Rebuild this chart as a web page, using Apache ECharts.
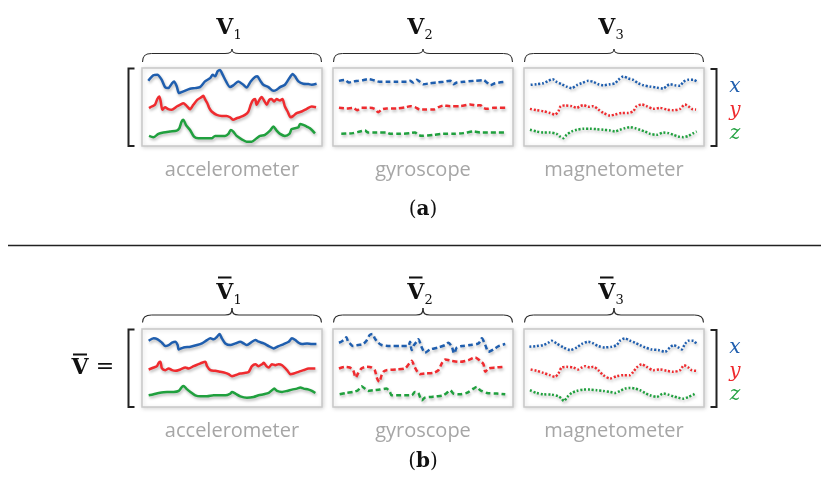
<!DOCTYPE html>
<html><head><meta charset="utf-8">
<script src="https://cdn.jsdelivr.net/npm/echarts@6/dist/echarts.min.js"></script>
<style>html,body{margin:0;padding:0;background:#fff}#c{width:821px;height:477px}</style>
</head><body><div id="c"></div>
<script>
// ---------- labels ----------
const sensorNames = ['accelerometer', 'gyroscope', 'magnetometer'];
const axisNames = ['x', 'y', 'z'];
const subLabels = ['(a)', '(b)'];

// ---------- data: [time %, level %] ----------
// (a) raw signals
const a_acc_x = [[3.5,83.7],[6.3,90.6],[8.5,91.4],[10.9,85],[12.8,75.5],[14.6,74.2],[16.5,79.8],[17.8,82.8],[19.3,76.4],[20.6,67.8],[23,70],[26.7,73.4],[29.4,74.2],[32.2,75.5],[35,82.8],[37.8,87],[39.3,91.4],[40.6,89.3],[42,95.7],[43.3,97.5],[44.8,91.4],[46.7,82.8],[48.9,75.5],[50.7,77.7],[53.5,82.8],[56.3,78.5],[58.1,75.1],[60.4,82.8],[62.8,88.4],[64.1,89.3],[65.6,84.1],[67.4,78.5],[70.2,75.5],[73,70.8],[74.8,72.1],[76.7,75.5],[79.4,78.5],[81.9,87.1],[83.7,92.3],[85,89.3],[86.9,82.8],[89.6,79.8],[92.4,79.4],[94.3,78.5],[97,79.8]];
const a_acc_y = [[3.9,48.5],[5.4,50.6],[7.2,52.8],[8.5,60.1],[9.6,63.5],[10.4,57.1],[11.3,46.4],[12.8,49.8],[14.6,47.2],[16.5,46.4],[19.3,50.6],[21.1,52.8],[23,54.9],[24.8,51.5],[26.7,47.2],[28.5,52.8],[30.7,59.2],[33.1,62.7],[34.1,64.4],[35,60.1],[36.3,54.9],[37.4,48.5],[38.7,44.2],[41.5,39.9],[44.3,38.6],[47,38.6],[48.9,36.9],[50.7,33.5],[52.6,35.6],[54.4,36.9],[57.2,39.9],[59.1,44.2],[60.4,52.8],[61.5,58.4],[62.8,60.1],[63.7,52.8],[65.2,59.2],[66.5,62.7],[67.8,58.4],[69.3,52.8],[70.7,59.2],[72,60.1],[73.3,57.1],[74.8,60.1],[76.7,58.4],[78,60.1],[79.4,50.6],[80.9,44.2],[82.6,36.9],[84.1,38.6],[85.9,42.1],[88.7,44.2],[91.5,47.6],[94.3,50.6],[96.7,49.8]];
const a_acc_z = [[3.9,12.9],[6.3,11.2],[9.1,15.5],[11.9,17.2],[15.6,18.5],[19.3,19.7],[20.7,22.7],[22,31.3],[23,33.5],[24.4,27],[26.7,20.6],[28.9,12],[31.3,9.9],[35,9.9],[38.7,9.9],[40.6,12.9],[43.3,12.9],[46.1,12.9],[48,15.5],[49.3,20.6],[50.7,18.5],[52.6,12.9],[55.4,8.6],[58.1,5.6],[60.9,5.6],[63.7,9.9],[65.6,12.9],[68.3,14.2],[71.1,19.7],[73,24.9],[74.8,19.7],[76.7,15.5],[79.4,12.9],[81.9,15.5],[83.1,21.5],[85,22.7],[86.9,24],[87.8,28.3],[89.6,27],[91.5,24.9],[93.3,22.7],[96.1,16.3]];
const a_gyr_x = [[3.3,83.5],[6.5,84.8],[8.9,81.4],[11.2,82.7],[13.9,83.5],[16.7,84.4],[19.5,85.7],[21.9,84.8],[23.8,83.5],[25.7,82.3],[29.7,82.3],[35.3,82.3],[40.9,82.3],[42.8,83.5],[44.6,81.4],[46.5,84.8],[48.3,82.3],[50.2,79.2],[53.9,80.5],[57.6,81.4],[61.3,82.3],[65.1,83.5],[66.9,79.2],[68.8,81.4],[72.5,82.3],[78.1,83.5],[83.6,84.4],[85.5,81.4],[87.4,77.9],[90.1,80.5],[95.7,82.3]];
const a_gyr_y = [[3.3,48.9],[7.4,48.1],[11.2,48.9],[13.4,45.9],[15.8,48.9],[20.4,48.9],[23.2,47.6],[25.1,43.3],[27,46.8],[29.7,48.1],[35.3,48.1],[40.9,49.8],[42.8,51.1],[45.5,49.8],[48.3,46.8],[51.1,46.8],[55.8,46.8],[58.6,49.8],[61.3,51.9],[65.1,51.1],[70.6,51.1],[76.2,53.2],[79.9,51.9],[81.8,52.4],[83.6,48.9],[85.5,47.6],[89.2,48.9],[95.7,48.9]];
const a_gyr_z = [[4.6,15.6],[11.2,16.5],[14.9,18.6],[17.7,19.9],[19.5,17.3],[24.2,17.3],[29.7,17.3],[31.6,15.6],[37.2,15.6],[42.8,16.5],[45.5,17.3],[47.4,14.3],[49.3,13],[55.8,14.3],[61.3,15.6],[66.9,15.6],[72.5,16.5],[78.1,18.6],[81.8,17.3],[95.7,17.3]];
const a_mag_x = [[3.7,78.4],[7,79.2],[10.7,80.5],[13.5,83.5],[15.9,85.7],[18.1,82.3],[20.9,79.2],[23.7,76.2],[26.5,74],[29.3,77.9],[32,80.5],[35.7,83.5],[38.5,82.3],[41.3,79.2],[44.1,77.9],[47.8,79.2],[50.6,80.5],[52.4,84.8],[55.2,89.2],[58,86.6],[60.7,84.8],[63.5,80.5],[66.3,77.9],[70,76.2],[73.7,74.9],[77.4,73.6],[79.3,77.1],[81.1,79.2],[83.9,77.9],[86.7,77.1],[88.5,82.3],[91.3,84.8],[94.1,84.8],[96.3,82.3]];
const a_mag_y = [[3.3,47.6],[7,45.9],[10.7,44.6],[14.4,42.4],[17.2,40.3],[19.1,44.6],[20.4,51.1],[22.8,51.9],[26.5,51.1],[29.3,48.9],[31.1,51.1],[33,52.4],[35.7,50.2],[38.5,51.1],[41.3,46.8],[44.1,42.4],[47.8,39],[50.6,40.3],[54.3,42.4],[58,42.4],[60.7,44.6],[62.6,51.1],[65.4,53.2],[68.1,51.1],[71.9,47.6],[75.6,48.9],[79.3,46.8],[83,45.9],[86.7,47.6],[89.4,53.2],[91.3,51.1],[93.1,47.6],[95.6,46.8]];
const a_mag_z = [[3.3,20.8],[7,18.6],[10.7,17.3],[14.4,17.3],[18.1,15.6],[20,12.1],[21.9,10],[23.7,14.3],[26.5,18.6],[29.3,20.8],[33,22.1],[36.7,22.1],[40.4,21.6],[44.1,20.8],[47.8,19.9],[50.6,18.6],[53.3,20.8],[56.1,22.9],[58.9,24.2],[61.7,22.9],[64.4,20.8],[67.2,18.6],[70,15.6],[73.7,14.3],[77.4,17.3],[80.2,16.5],[83,14.3],[85.7,12.1],[88.5,11.3],[91.3,12.9],[94.1,16.5],[95.9,18.6]];
// (b) processed signals
const b_acc_x = [[3.7,85],[6.5,88],[8.7,86.7],[11.1,82.4],[13,78.1],[14.8,79.4],[16.7,82.4],[18.5,83.7],[19.8,79.4],[20.4,73.8],[23.1,76.4],[26.9,77.3],[30.6,79.4],[33.3,81.5],[36.1,85.8],[38,88],[39.8,86.7],[41.7,90.1],[43.1,93.6],[44.4,88],[46.3,81.5],[49.1,79.4],[51.9,81.5],[54.6,83.7],[56.5,81.5],[58.3,79.4],[61.1,83.7],[63,85.8],[64.8,83.7],[67.6,81.5],[70.4,78.1],[73.1,75.1],[75.9,78.1],[78.7,80.7],[81.5,83.7],[83.3,88],[85.2,85.8],[87,82.4],[88.9,80.7],[91.7,81.5],[94.4,80.7],[96.9,80.7]];
const b_acc_y = [[3.7,48.1],[6.5,50.6],[8.3,52.4],[9.3,56.7],[10.2,57.9],[11.1,49.4],[13,47.2],[14.8,49.4],[16.7,47.2],[18.5,46.4],[21.3,48.1],[24.1,50.6],[25.9,49.4],[28.7,52.4],[31.5,54.9],[33.3,56.7],[35.2,57.9],[36.1,52.4],[38,47.2],[40.7,46.4],[43.5,45.1],[46.3,43.8],[48.1,42.1],[50,39.5],[51.9,40.8],[54.6,42.9],[57.4,43.8],[59.3,45.1],[61.1,52.4],[63,54.9],[64.8,52.4],[66.7,54.9],[67.6,56.7],[69.1,52.4],[70.4,50.6],[72.2,54.9],[74.1,53.6],[75.9,54.9],[77.8,53.6],[80.6,47.2],[82.4,42.1],[84.3,42.9],[87,45.1],[89.8,47.2],[92.6,49.4],[96.3,49.4]];
const b_acc_z = [[3.7,15],[6.5,16.3],[9.3,18],[13.9,19.3],[17.6,19.3],[20.4,20.6],[22.2,25.8],[23.1,27],[24.6,23.6],[26.9,19.3],[29.6,15],[32.4,13.7],[36.1,13.7],[39.8,15],[43.5,15],[46.3,15],[49.1,17.2],[50,19.3],[51.9,17.2],[54.6,13.7],[58.3,12],[62,12.9],[64.8,15],[67.6,16.3],[70.4,18],[72.2,21.5],[73.5,23.6],[75,20.6],[77.8,19.3],[80.6,20.6],[83.3,22.3],[86.1,23.6],[88,24.9],[89.8,23.6],[92.6,22.3],[94.4,20.6],[96.3,18]];
const b_gyr_x = [[3.3,82.4],[4.6,83.7],[5.9,85.8],[7.4,89.3],[8.4,83.7],[9.7,80.7],[11.2,78.1],[13.9,79.4],[16.7,80.7],[18.6,85],[20.4,92.3],[21.9,93.6],[23.2,88],[25.1,82.4],[27,79.4],[31.6,78.1],[37.2,78.1],[41.8,78.1],[42.8,83.7],[43.7,73],[45,79.4],[46.5,83.7],[47.4,86.7],[49.3,76.4],[51.1,69.5],[53.9,73.8],[58.6,76.4],[62.3,79.4],[64.1,82.4],[66,77.3],[67.3,68.7],[68.8,76.4],[71.6,78.1],[76.2,79.4],[80.9,81.5],[82.7,88],[84.6,79.4],[86.4,70.8],[89.2,73.8],[92,78.1],[95.7,80.7]];
const b_gyr_y = [[3.3,49.4],[6.5,51.5],[9.3,50.6],[11.2,47.2],[12.6,37.8],[13.9,42.9],[15.8,49.4],[18.6,51.5],[21.4,50.6],[23.2,47.2],[24.5,36.5],[25.7,32.2],[27,40.8],[27.9,45.1],[29.7,47.2],[35.3,48.1],[40,49.4],[42.4,55.8],[43.7,59.2],[45.5,50.6],[48.3,42.1],[51.1,42.9],[55.8,43.8],[58.6,47.2],[60.4,55.8],[62.3,60.9],[66,59.2],[70.6,57.9],[75.3,60.1],[79,63.5],[81.8,59.2],[83.6,54.9],[84.6,45.1],[86.4,49.4],[90.1,50.6],[94.8,51.5]];
const b_gyr_z = [[3.7,16.3],[7.4,18],[11.2,19.3],[13.9,21.5],[15.8,26.6],[17.7,23.6],[19.5,20.6],[22.3,21.5],[26,22.3],[29.7,23.6],[31.6,19.3],[32.5,15],[35.3,15],[40,15],[43.7,15],[45.5,19.3],[47.4,18],[49.3,8.6],[51.1,12],[53.9,12.9],[57.6,13.7],[61.3,15],[63.2,18],[65.1,21.5],[66.9,17.2],[70.6,16.3],[74.3,18],[78.1,23.6],[79.9,25.8],[81.8,21.5],[85.5,18],[91.1,17.2],[95.7,16.3]];
const b_mag_x = [[3,77.3],[7,78.1],[10.7,79.4],[13.5,82.4],[15.4,85],[18.1,81.5],[21.9,76.4],[25.6,73],[29.3,76.4],[32,80.7],[35.7,83.7],[38.5,81.5],[41.3,78.1],[45,76.4],[48.7,77.3],[51.5,79.4],[53.3,85],[56.1,88],[58.9,85],[61.7,82.4],[64.4,79.4],[67.2,76.4],[70.9,73.8],[74.6,73],[78.3,70.8],[81.1,76.4],[83,79.4],[85.7,76.4],[87.6,73.8],[89.4,80.7],[91.3,85],[94.1,85],[95.9,80.7]];
const b_mag_y = [[3.7,48.1],[7,46.4],[10.7,43.8],[14.4,40.8],[17.2,38.6],[19.1,42.9],[20.9,50.6],[23.7,51.5],[27.4,50.6],[30.2,48.1],[32,50.6],[33.9,52.4],[36.7,50.6],[38.5,51.5],[41.3,47.2],[44.1,40.8],[47.8,36.5],[51.5,39.5],[55.2,40.8],[58.9,40.8],[60.7,45.1],[62.6,50.6],[65.4,54.9],[68.1,51.5],[71.9,47.2],[75.6,48.1],[79.3,46.4],[83,45.1],[86.7,47.2],[88.9,53.6],[91.3,50.6],[93.1,47.2],[95.6,46.4]];
const b_mag_z = [[3.3,21.5],[7,18],[10.7,16.3],[15.4,15.9],[19.1,13.7],[20.9,10.7],[22.2,7.7],[24.1,12.9],[26.5,18],[29.3,20.6],[33,22.3],[36.7,22.3],[40.4,21.5],[44.1,20.6],[47.8,19.3],[50.6,18],[53.3,20.6],[56.1,23.6],[58.9,24.5],[61.7,23.6],[64.4,21.5],[67.2,18],[70,15],[73.7,12.9],[77.4,17.2],[80.2,15.9],[83,13.7],[85.7,12],[88.5,10.7],[91.3,12.9],[94.1,15.9],[95.6,18]];

// ---------- layout / style ----------
const panelSeries = [
  [a_acc_x, a_acc_y, a_acc_z], [a_gyr_x, a_gyr_y, a_gyr_z], [a_mag_x, a_mag_y, a_mag_z],
  [b_acc_x, b_acc_y, b_acc_z], [b_gyr_x, b_gyr_y, b_gyr_z], [b_mag_x, b_mag_y, b_mag_z]
];
const lineColors = ['#1f5eae', '#ef2b2f', '#20a03e'];
const dashTypes = ['solid', [5, 3], [2, 1.8]];
const panelLeft = [142, 333, 524], panelW = 180, panelH = 78;
const rowTop = [68, 329];

const grids = [], xAxes = [], yAxes = [], series = [];
panelSeries.forEach((p, i) => {
  const row = Math.floor(i / 3), col = i % 3;
  grids.push({ left: panelLeft[col], top: rowTop[row], width: panelW, height: panelH, show: true,
    borderColor: '#c8c8c8', borderWidth: 1.5, backgroundColor: '#fff',
    shadowBlur: 4, shadowColor: 'rgba(0,0,0,0.15)', shadowOffsetX: 1, shadowOffsetY: 1 });
  xAxes.push({ type: 'value', gridIndex: i, min: 0, max: 100, show: false });
  yAxes.push({ type: 'value', gridIndex: i, min: 0, max: 100, show: false });
  p.forEach((d, k) => {
    series.push({ type: 'line', name: sensorNames[col] + ' ' + axisNames[k], xAxisIndex: i, yAxisIndex: i,
      data: d, symbol: 'none', showSymbol: false, smooth: 0.25, silent: true,
      lineStyle: { color: lineColors[k], width: 2.5, type: dashTypes[col], cap: 'butt',
        shadowBlur: 3, shadowColor: 'rgba(0,0,0,0.28)', shadowOffsetX: 1, shadowOffsetY: 2 } });
  });
});

const braceStyle = { stroke: '#2a2a2a', fill: null, lineWidth: 1.1 };
function brace(L, R, E, M, T) {
  const c = (L + R) / 2;
  const bz = (x1, y1, cpx1, cpy1, cpx2, cpy2, x2, y2) =>
    ({ type: 'bezierCurve', shape: { x1, y1, cpx1, cpy1, cpx2, cpy2, x2, y2 }, style: braceStyle });
  const ln = (x1, y1, x2, y2) => ({ type: 'line', shape: { x1, y1, x2, y2 }, style: braceStyle });
  return [
    bz(L, E, L, M + 3, L + 2, M, L + 9, M),
    ln(L + 9, M, c - 7, M),
    bz(c - 7, M, c - 2, M, c, M - 1, c, T),
    bz(c, T, c, M - 1, c + 2, M, c + 7, M),
    ln(c + 7, M, R - 9, M),
    bz(R - 9, M, R - 2, M, R, M + 3, R, E)
  ];
}

const graphics = [];
const barStyle = { stroke: '#111', lineWidth: 2 };
const braceY = [[62, 53.5, 49], [322.5, 315, 308]];
const vLabelY = [28.5, 293];
const sensorY = [170, 431];
const subY = [210, 462];
const axisY = [[87, 111, 134], [348, 372, 395]];
[0, 1].forEach(row => {
  const top = rowTop[row], bot = top + panelH;
  panelLeft.forEach((L, col) => {
    const cx = L + panelW / 2 - 3;
    graphics.push(...brace(L + 0.5, L + panelW - 0.5, ...braceY[row]));
    graphics.push({ type: 'text', x: cx, y: vLabelY[row],
      style: { text: '{v|V}{s|' + (col + 1) + '}', align: 'center', verticalAlign: 'middle',
        rich: { v: { font: 'bold 22px "DejaVu Serif"', fill: '#111', lineHeight: 28 },
                s: { font: '13px "DejaVu Serif"', fill: '#111', lineHeight: 14, verticalAlign: 'bottom' } } } });
    if (row === 1) {
      graphics.push({ type: 'line', shape: { x1: cx - 11, y1: 277.5, x2: cx + 2.5, y2: 277.5 }, style: barStyle });
    }
    graphics.push({ type: 'text', x: L + panelW / 2, y: sensorY[row],
      style: { text: sensorNames[col], font: '20px "Open Sans"', fill: '#a6a6a6', align: 'center', verticalAlign: 'middle' } });
  });
  graphics.push({ type: 'polyline', shape: { points: [[134.5, top + 0.5], [128.5, top + 0.5], [128.5, bot], [134.5, bot]] },
    style: { stroke: '#222', lineWidth: 2, fill: null } });
  graphics.push({ type: 'polyline', shape: { points: [[710.5, top + 1], [716.5, top + 1], [716.5, bot], [710.5, bot]] },
    style: { stroke: '#222', lineWidth: 2, fill: null } });
  axisNames.forEach((n, k) => {
    graphics.push({ type: 'text', x: 735, y: axisY[row][k],
      style: { text: n, font: 'italic 20px "DejaVu Serif"', fill: lineColors[k], align: 'center', verticalAlign: 'middle' } });
  });
  const letter = subLabels[row].slice(1, 2);
  graphics.push({ type: 'text', x: 423, y: subY[row],
    style: { text: '{p|(}{b|' + letter + '}{p|)}', align: 'center', verticalAlign: 'middle',
      rich: { p: { font: '20px "DejaVu Serif"', fill: '#111' }, b: { font: 'bold 20px "DejaVu Serif"', fill: '#111' } } } });
});
graphics.push({ type: 'line', shape: { x1: 8, y1: 245.5, x2: 821, y2: 245.5 }, style: { stroke: '#222', lineWidth: 1.3 } });
graphics.push({ type: 'text', x: 80, y: 368.5,
  style: { text: 'V', font: 'bold 22px "DejaVu Serif"', fill: '#111', align: 'center', verticalAlign: 'middle' } });
graphics.push({ type: 'line', shape: { x1: 73, y1: 354.5, x2: 87, y2: 354.5 }, style: barStyle });
graphics.push({ type: 'text', x: 105, y: 367,
  style: { text: '=', font: '22px "DejaVu Serif"', fill: '#111', align: 'center', verticalAlign: 'middle' } });

const chart = echarts.init(document.getElementById('c'), null, { renderer: 'canvas' });
chart.setOption({
  animation: false,
  backgroundColor: '#fff',
  grid: grids, xAxis: xAxes, yAxis: yAxes, series: series,
  graphic: { elements: graphics }
});
</script></body></html>
